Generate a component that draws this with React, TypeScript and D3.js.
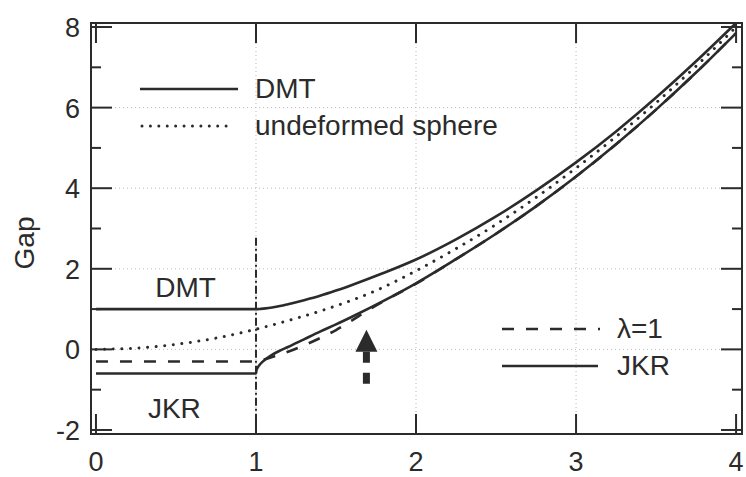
import React, { useRef, useEffect } from "react"
import * as d3 from "d3"

// axis ticks
const xTicks = [0, 1, 2, 3, 4]
const yTicks = [-2, 0, 2, 4, 6, 8]
const yMinor = [-1, 1, 3, 5, 7]

// undeformed sphere (dotted)
const sphereX = [0, 0.25, 0.5, 0.75, 1, 1.25, 1.5, 1.75, 2, 2.25, 2.5, 2.75, 3, 3.25, 3.5, 3.75, 4]
const sphereY = [0, 0.03, 0.125, 0.28, 0.5, 0.77, 1.08, 1.46, 1.95, 2.5, 3.1, 3.77, 4.5, 5.28, 6.12, 7.03, 8.0]

// DMT (solid, upper)
const dmtX = [0, 1, 1.01, 1.03, 1.06, 1.1, 1.15, 1.2, 1.3, 1.4, 1.5, 1.6, 1.8, 2.0, 2.25, 2.5, 2.75, 3.0, 3.25, 3.5, 3.75, 4.0]
const dmtY = [1.0, 1.0, 1.0, 1.006, 1.018, 1.04, 1.075, 1.12, 1.22, 1.33, 1.46, 1.6, 1.9, 2.23, 2.73, 3.3, 3.94, 4.64, 5.41, 6.25, 7.15, 8.1]

// JKR (solid, lower)
const jkrX = [0, 1, 1.003, 1.01, 1.03, 1.06, 1.1, 1.15, 1.2, 1.3, 1.4, 1.5, 1.6, 1.8, 2.0, 2.25, 2.5, 2.75, 3.0, 3.25, 3.5, 3.75, 4.0]
const jkrY = [-0.6, -0.6, -0.52, -0.455, -0.35, -0.245, -0.135, -0.03, 0.06, 0.25, 0.44, 0.62, 0.81, 1.21, 1.64, 2.24, 2.87, 3.55, 4.29, 5.09, 5.95, 6.87, 7.85]

// lambda = 1 (dashed)
const lambdaX = [0, 1, 1.05, 1.1, 1.2, 1.3, 1.4, 1.5, 1.6, 1.7, 1.8, 2.0, 2.25, 2.5, 2.75, 3.0, 3.25, 3.5, 3.75, 4.0]
const lambdaY = [-0.3, -0.3, -0.25, -0.19, -0.06, 0.1, 0.28, 0.48, 0.72, 0.97, 1.2, 1.63, 2.24, 2.87, 3.55, 4.29, 5.09, 5.95, 6.87, 7.85]

// annotations (data units)
const contactEdge = { x: 1, top: 2.77 }
const arrow = { x: 1.69, tip: 0.49, base: -0.06, tail: -0.92 }
const labels = [
    { text: "DMT", x: 0.56, y: 1.3 },
    { text: "JKR", x: 0.49, y: -1.7 },
]

const font = "'Liberation Sans', Arial, sans-serif"
const ink = "#2b2b2b"

const App = () => {
    let element = useRef<SVGSVGElement>(null)

    useEffect(() => {
        let margin = { top: 23, right: 4, bottom: 43, left: 91 },
            width = 746 - margin.left - margin.right,
            height = 477 - margin.top - margin.bottom

        let svg = d3.select(element.current)
        svg.selectAll("*").remove()

        svg.append("rect").attr("width", 746).attr("height", 477).attr("fill", "#fff")

        let g = svg.append("g")
            .attr("transform", "translate(" + margin.left + "," + margin.top + ")")

        let x = d3.scaleLinear().domain([-0.031, 4.037]).range([0, width])
        let y = d3.scaleLinear().domain([-2.1, 8.1]).range([height, 0])

        // faint dotted grid
        g.selectAll(".vgrid")
            .data(xTicks.slice(1, -1))
            .enter().append("line")
            .attr("x1", d => x(d)).attr("x2", d => x(d))
            .attr("y1", 0).attr("y2", height)
            .attr("stroke", "#bbb").attr("stroke-width", 1).attr("stroke-dasharray", "1,3")
        g.selectAll(".hgrid")
            .data(yTicks.slice(1, -1))
            .enter().append("line")
            .attr("x1", 0).attr("x2", width)
            .attr("y1", d => y(d)).attr("y2", d => y(d))
            .attr("stroke", "#bbb").attr("stroke-width", 1).attr("stroke-dasharray", "1,3")

        // contact edge, dash-dot
        g.append("line")
            .attr("x1", x(contactEdge.x)).attr("x2", x(contactEdge.x))
            .attr("y1", y(contactEdge.top)).attr("y2", height)
            .attr("stroke", ink).attr("stroke-width", 2)
            .attr("stroke-dasharray", "8,3,2,3")

        const line = (xs: number[], ys: number[]) =>
            d3.line<number>()
                .x((d, i) => x(xs[i]))
                .y(d => y(d))
                .curve(d3.curveMonotoneX)(ys)

        g.append("path").attr("d", line(jkrX, jkrY))
            .attr("fill", "none").attr("stroke", ink).attr("stroke-width", 2.6)
        g.append("path").attr("d", line(dmtX, dmtY))
            .attr("fill", "none").attr("stroke", ink).attr("stroke-width", 2.6)
        g.append("path").attr("d", line(sphereX, sphereY))
            .attr("fill", "none").attr("stroke", ink).attr("stroke-width", 3)
            .attr("stroke-linecap", "round").attr("stroke-dasharray", "0.01,8.6")
        g.append("path").attr("d", line(lambdaX, lambdaY))
            .attr("fill", "none").attr("stroke", ink).attr("stroke-width", 2.6)
            .attr("stroke-dasharray", "12,12")

        // arrow
        let ax = x(arrow.x)
        g.append("line")
            .attr("x1", ax).attr("x2", ax)
            .attr("y1", y(arrow.base)).attr("y2", y(arrow.tail))
            .attr("stroke", ink).attr("stroke-width", 7)
            .attr("stroke-dasharray", "11,10")
        g.append("path")
            .attr("d", `M${ax},${y(arrow.tip)} L${ax + 11},${y(arrow.base)} L${ax - 11},${y(arrow.base)} Z`)
            .attr("fill", ink)

        // frame and inward ticks
        g.append("rect")
            .attr("width", width).attr("height", height)
            .attr("fill", "none").attr("stroke", ink).attr("stroke-width", 2)

        const tick = (x1: number, y1: number, x2: number, y2: number) =>
            g.append("line").attr("x1", x1).attr("y1", y1).attr("x2", x2).attr("y2", y2)
                .attr("stroke", ink).attr("stroke-width", 2)

        xTicks.forEach(t => {
            tick(x(t), height, x(t), height - 20)
            tick(x(t), 0, x(t), 20)
        })
        yTicks.forEach(t => {
            tick(0, y(t), 21, y(t))
            tick(width, y(t), width - 21, y(t))
        })
        yMinor.forEach(t => {
            tick(0, y(t), 10, y(t))
            tick(width, y(t), width - 10, y(t))
        })

        // tick labels
        g.selectAll(".xlab")
            .data(xTicks)
            .enter().append("text")
            .attr("x", d => x(d)).attr("y", height + 37)
            .attr("text-anchor", "middle")
            .style("font-family", font).style("font-size", "27px").attr("fill", ink)
            .text(d => d)
        g.selectAll(".ylab")
            .data(yTicks)
            .enter().append("text")
            .attr("x", -11).attr("y", d => y(d) + 10)
            .attr("text-anchor", "end")
            .style("font-family", font).style("font-size", "27px").attr("fill", ink)
            .text(d => d < 0 ? "-" + Math.abs(d) : d)

        // region labels
        g.selectAll(".region")
            .data(labels)
            .enter().append("text")
            .attr("x", d => x(d.x)).attr("y", d => y(d.y))
            .attr("text-anchor", "middle")
            .style("font-family", font).style("font-size", "28px").attr("fill", ink)
            .text(d => d.text)

        // y axis title
        svg.append("text")
            .attr("transform", "translate(34,243) rotate(-90)")
            .attr("text-anchor", "middle")
            .style("font-family", font).style("font-size", "28px").attr("fill", ink)
            .text("Gap")

        // legends
        const legend = [
            { x1: 140, x2: 238, y: 89, tx: 255, label: "DMT", dash: null, w: 2.6, cap: "butt" },
            { x1: 142, x2: 234, y: 126, tx: 255, label: "undeformed sphere", dash: "0.01,8.4", w: 3, cap: "round" },
            { x1: 502, x2: 600, y: 329, tx: 617, label: "λ=1", dash: "12,12", w: 2.6, cap: "butt" },
            { x1: 502, x2: 598, y: 366, tx: 617, label: "JKR", dash: null, w: 2.6, cap: "butt" },
        ]
        legend.forEach(l => {
            svg.append("line")
                .attr("x1", l.x1).attr("x2", l.x2).attr("y1", l.y).attr("y2", l.y)
                .attr("stroke", ink).attr("stroke-width", l.w)
                .attr("stroke-linecap", l.cap)
                .attr("stroke-dasharray", l.dash)
            svg.append("text")
                .attr("x", l.tx).attr("y", l.y + 9)
                .style("font-family", font).style("font-size", "28px").attr("fill", ink)
                .text(l.label)
        })
    }, [])

    return (
        <svg ref={element} width={746} height={477}
            style={{ position: "absolute", left: 0, top: 0 }}></svg>
    )
}

export default App
